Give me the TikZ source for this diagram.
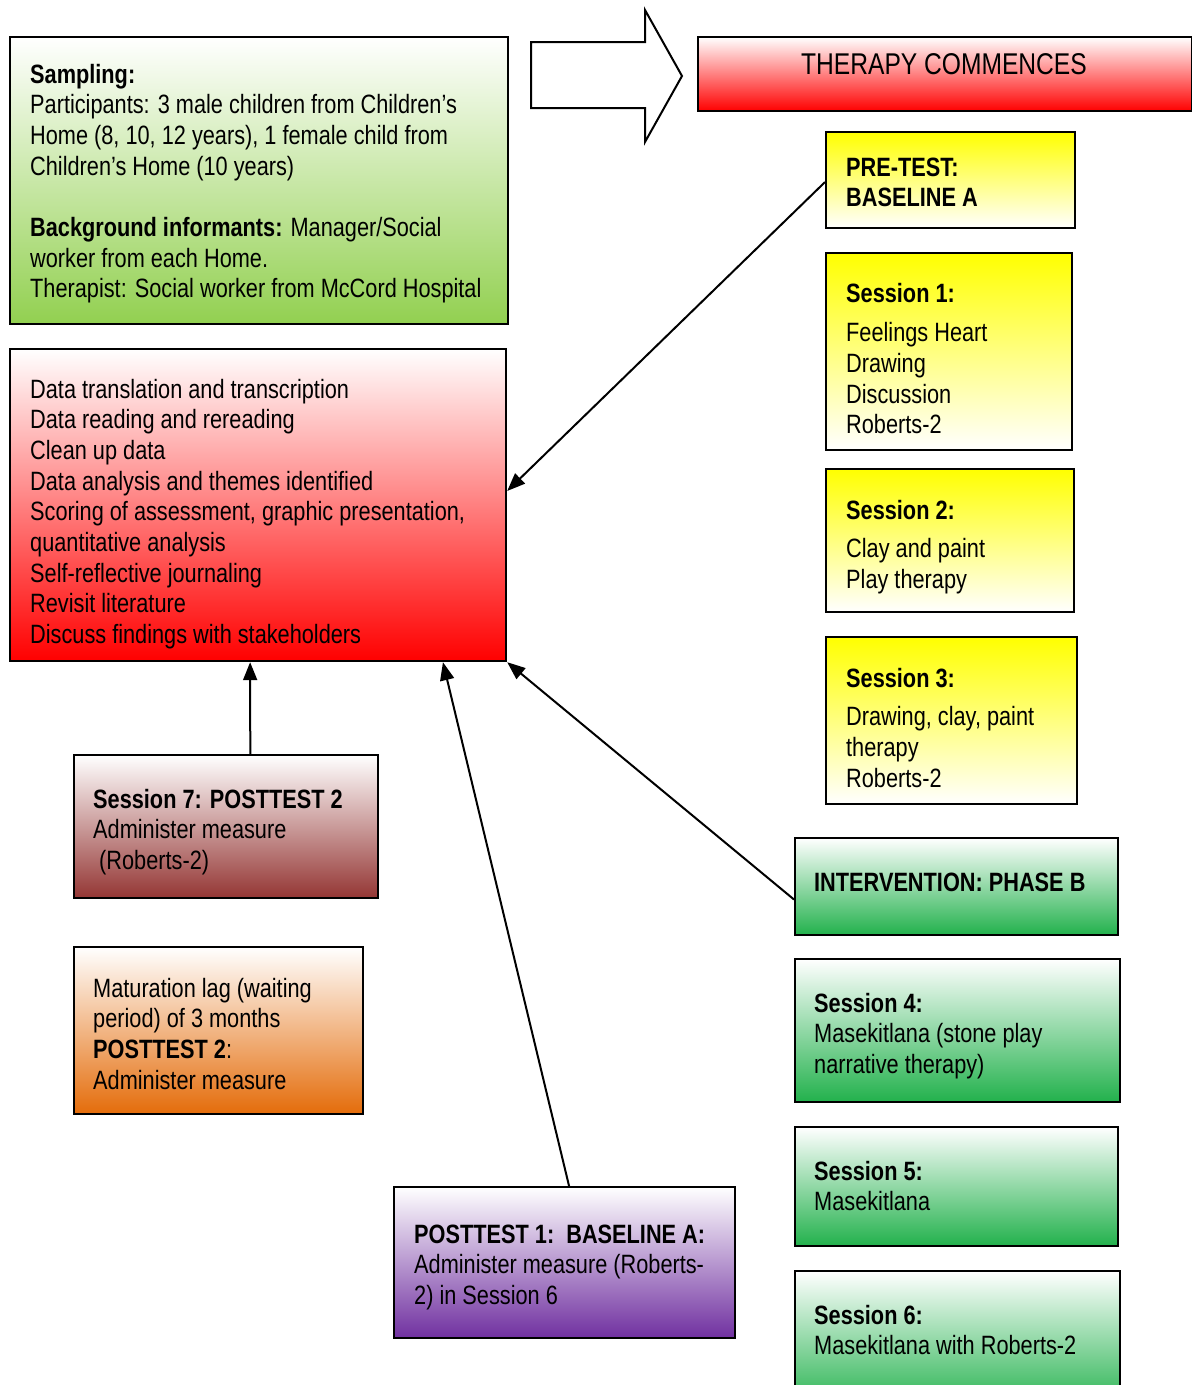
\documentclass[tikz,border=0pt]{standalone}
\usepackage{fontspec}
\setmainfont{Liberation Sans}[FakeStretch=0.82]
\usetikzlibrary{arrows.meta,calc}
\definecolor{sgreen}{HTML}{92D050}
\definecolor{igreen}{RGB}{34,177,76}
\definecolor{dred}{HTML}{943634}
\definecolor{orng}{HTML}{E46C0A}
\definecolor{purp}{HTML}{7030A0}
\tikzset{
  box/.style={draw=black, line width=2.2pt, inner sep=0pt, anchor=north west},
  txt/.style={anchor=base west, inner sep=0pt, font=\fontsize{26.5}{30.7}\selectfont},
  conn/.style={line width=2pt, -{Triangle[length=18pt,width=14pt]}}
}
\begin{document}
\begin{tikzpicture}[x=1pt,y=-1pt]
\useasboundingbox (0,0) rectangle (1192,1385);
% big outline arrow
\draw[line width=2pt, fill=white] (531,42) -- (645,42) -- (645,10) -- (682,76) -- (645,142) -- (645,108) -- (531,108) -- cycle;
% boxes
\node[box, minimum width=498, minimum height=287, top color=white, bottom color=sgreen] (samp) at (9,36) {};
\node[box, minimum width=494, minimum height=74, top color=white, bottom color=red] (ther) at (697,36) {};
\node[box, minimum width=496, minimum height=312, top color=white, bottom color=red] (data) at (9,348) {};
\node[box, minimum width=249, minimum height=96, top color=yellow, bottom color=white] (pre) at (825,131) {};
\node[box, minimum width=246, minimum height=197, top color=yellow, bottom color=white] (s1) at (825,252) {};
\node[box, minimum width=248, minimum height=143, top color=yellow, bottom color=white] (s2) at (825,468) {};
\node[box, minimum width=251, minimum height=167, top color=yellow, bottom color=white] (s3) at (825,636) {};
\node[box, minimum width=323, minimum height=97, top color=white, bottom color=igreen] (int) at (794,837) {};
\node[box, minimum width=325, minimum height=143, top color=white, bottom color=igreen] (s4) at (794,958) {};
\node[box, minimum width=323, minimum height=119, top color=white, bottom color=igreen] (s5) at (794,1126) {};
\node[box, minimum width=325, minimum height=140, top color=white, bottom color=igreen] (s6) at (794,1270) {};
\node[box, minimum width=304, minimum height=143, top color=white, bottom color=dred] (s7) at (73,754) {};
\node[box, minimum width=289, minimum height=167, top color=white, bottom color=orng] (mat) at (73,946) {};
\node[box, minimum width=341, minimum height=151, top color=white, bottom color=purp] (post1) at (393,1186) {};
% texts
\node[txt] (tsamp) at (30,83) {\begin{tabular}[t]{@{}l@{}}\textbf{Sampling:}\\
Participants: 3 male children from Children’s\\
Home (8, 10, 12 years), 1 female child from\\
Children’s Home (10 years)\\
\\
\textbf{Background informants:} Manager/Social\\
worker from each Home.\\
Therapist: Social worker from McCord Hospital\end{tabular}};
\node[anchor=base, inner sep=0pt, font=\fontsize{30}{34}\selectfont] (tther) at (944,74) {THERAPY COMMENCES};
\node[txt] (tdata) at (30,398) {\begin{tabular}[t]{@{}l@{}}Data translation and transcription\\
Data reading and rereading\\
Clean up data\\
Data analysis and themes identified\\
Scoring of assessment, graphic presentation,\\
quantitative analysis\\
Self-reflective journaling\\
Revisit literature\\
Discuss findings with stakeholders\end{tabular}};
\node[txt] (tpre) at (846,176) {\begin{tabular}[t]{@{}l@{}}\textbf{PRE-TEST:}\\ \textbf{BASELINE A}\end{tabular}};
\node[txt] (ts1) at (846,302) {\begin{tabular}[t]{@{}l@{}}\textbf{Session 1:}\\[9pt] Feelings Heart\\ Drawing\\ Discussion\\ Roberts-2\end{tabular}};
\node[txt] (ts2) at (846,519) {\begin{tabular}[t]{@{}l@{}}\textbf{Session 2:}\\[8pt] Clay and paint\\ Play therapy\end{tabular}};
\node[txt] (ts3) at (846,687) {\begin{tabular}[t]{@{}l@{}}\textbf{Session 3:}\\[8pt] Drawing, clay, paint\\ therapy\\ Roberts-2\end{tabular}};
\node[txt] (tint) at (814,891) {\textbf{INTERVENTION: PHASE B}};
\node[txt] (ts4) at (814,1012) {\begin{tabular}[t]{@{}l@{}}\textbf{Session 4:}\\ Masekitlana (stone play\\ narrative therapy)\end{tabular}};
\node[txt] (ts5) at (814,1180) {\begin{tabular}[t]{@{}l@{}}\textbf{Session 5:}\\ Masekitlana\end{tabular}};
\node[txt] (ts6) at (814,1324) {\begin{tabular}[t]{@{}l@{}}\textbf{Session 6:}\\ Masekitlana with Roberts-2\end{tabular}};
\node[txt] (ts7) at (93,808) {\begin{tabular}[t]{@{}l@{}}\textbf{Session 7: POSTTEST 2}\\ Administer measure\\ \ (Roberts-2)\end{tabular}};
\node[txt] (tmat) at (93,997) {\begin{tabular}[t]{@{}l@{}}Maturation lag (waiting\\ period) of 3 months\\ \textbf{POSTTEST 2}:\\ Administer measure\end{tabular}};
\node[txt] (tpost1) at (414,1243) {\begin{tabular}[t]{@{}l@{}}\textbf{POSTTEST 1:\ \ BASELINE A:}\\ Administer measure (Roberts-\\ 2) in Session 6\end{tabular}};
% connectors
\draw[conn] ($(pre.north west)!0.52!(pre.south west)$) -- ($(data.north east)!0.455!(data.south east)$);
\draw[conn] ($(s7.north west)!0.579!(s7.north east)$) -- ($(data.south west)!0.484!(data.south east)$);
\draw[conn] ($(post1.north west)!0.513!(post1.north east)$) -- ($(data.south west)!0.871!(data.south east)$);
\draw[conn] ($(int.north west)!0.63!(int.south west)$) -- (data.south east);
\end{tikzpicture}
\end{document}
